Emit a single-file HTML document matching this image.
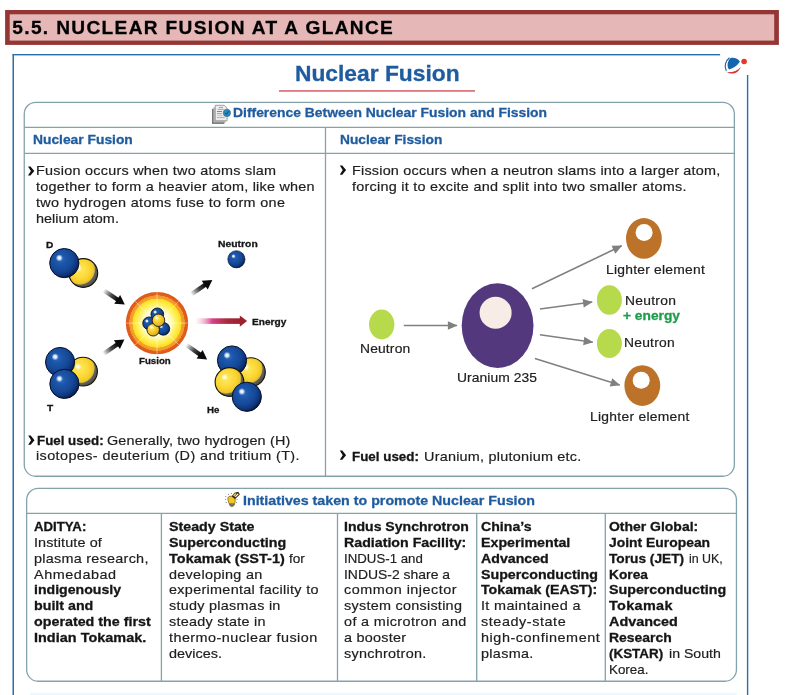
<!DOCTYPE html>
<html><head><meta charset="utf-8"><title>Nuclear Fusion at a Glance</title>
<style>
html,body{margin:0;padding:0;background:#fff;}
body{width:788px;height:695px;position:relative;overflow:hidden;font-family:"Liberation Sans",sans-serif;}
.t{position:absolute;white-space:nowrap;-webkit-text-stroke:0.18px currentColor;transform-origin:0 50%;font-family:"Liberation Sans",sans-serif;}
.t b{font-weight:bold;color:#151515;-webkit-text-stroke:0.3px #151515;}
.t.bd{-webkit-text-stroke:0.3px currentColor;}
.abs{position:absolute;}
#hdr{left:5px;top:10px;width:774px;height:35px;background:#943634;}
#hdr i{position:absolute;left:4.6px;top:4.4px;right:4.7px;bottom:4.4px;background:#e5b8b7;display:block;}
.bl{background:#2a6fad;}
.box{border:1.3px solid #86a5ae;border-radius:12px;box-sizing:border-box;}
.hl{background:#86a5ae;height:1.3px;}
.vl{background:#86a5ae;width:1.3px;}
svg{position:absolute;left:0;top:0;overflow:visible;}
</style></head><body>
<svg width="788" height="695" viewBox="0 0 788 695">
<defs>
<radialGradient id="gb" cx="0.38" cy="0.36" r="0.7">
 <stop offset="0" stop-color="#2e70c8"/><stop offset="0.22" stop-color="#1d58ac"/><stop offset="0.6" stop-color="#154796"/><stop offset="0.8" stop-color="#0e3579"/><stop offset="0.92" stop-color="#082256"/><stop offset="1" stop-color="#041234"/>
</radialGradient>
<radialGradient id="gy" cx="0.38" cy="0.38" r="0.66">
 <stop offset="0" stop-color="#ffea62"/><stop offset="0.5" stop-color="#fbd734"/><stop offset="0.73" stop-color="#f1c627"/><stop offset="0.775" stop-color="#bfae48"/><stop offset="0.81" stop-color="#66645a"/><stop offset="1" stop-color="#4a4842"/>
</radialGradient>
<radialGradient id="gh" cx="0.5" cy="0.5" r="0.5">
 <stop offset="0" stop-color="#fff" stop-opacity="1"/><stop offset="0.4" stop-color="#fff" stop-opacity="0.85"/><stop offset="1" stop-color="#fff" stop-opacity="0"/>
</radialGradient>
<radialGradient id="gy2" cx="0.38" cy="0.34" r="0.75">
 <stop offset="0" stop-color="#ffef80"/><stop offset="0.4" stop-color="#f8d030"/><stop offset="0.8" stop-color="#e0b020"/><stop offset="1" stop-color="#7a6a30"/>
</radialGradient>
<radialGradient id="gf" cx="0.5" cy="0.5" r="0.5">
 <stop offset="0" stop-color="#ffffff"/><stop offset="0.3" stop-color="#fffef0"/><stop offset="0.46" stop-color="#fffabf"/><stop offset="0.58" stop-color="#fff36e"/><stop offset="0.7" stop-color="#ffe83a"/><stop offset="0.78" stop-color="#fddc22"/>
 <stop offset="0.79" stop-color="#f5a42c"/><stop offset="0.885" stop-color="#f2962a"/><stop offset="0.895" stop-color="#e0611d"/><stop offset="1" stop-color="#db571b"/>
</radialGradient>
<linearGradient id="ge" x1="0" x2="1" y1="0" y2="0">
 <stop offset="0" stop-color="#f6c9d6" stop-opacity="0.2"/><stop offset="0.35" stop-color="#d9408a"/><stop offset="0.7" stop-color="#a8283a"/><stop offset="1" stop-color="#9c2230"/>
</linearGradient>
<linearGradient id="ga" x1="0" x2="1" y1="0" y2="0">
 <stop offset="0" stop-color="#000" stop-opacity="0"/><stop offset="0.55" stop-color="#222" stop-opacity="0.85"/><stop offset="1" stop-color="#000"/>
</linearGradient>
<g id="barrow"><rect x="0" y="-2.2" width="18" height="4.4" fill="url(#ga)"/><path d="M16.4 -5.3 L25.6 0 L16.4 5.3 Z" fill="#0a0a0a"/></g>
<g id="sb"><circle r="14.6" fill="url(#gb)" stroke="#050f2a" stroke-width="1"/><circle cx="-5" cy="-5.2" r="3.6" fill="url(#gh)"/></g>
<g id="sy"><circle r="14.4" fill="url(#gy)" stroke="#15120a" stroke-width="1.1"/><circle cx="-5" cy="-5" r="3.4" fill="url(#gh)" opacity="0.9"/></g>
<g id="sb2"><circle r="14.4" fill="url(#gb)" stroke="#050f2a" stroke-width="2"/><circle cx="-5" cy="-5.2" r="4.6" fill="url(#gh)"/></g>
<g id="sy2"><circle r="14.2" fill="url(#gy2)" stroke="#1c1a10" stroke-width="2"/><circle cx="-4" cy="-5.5" r="3" fill="#fff" opacity="0.8"/></g>
<marker id="mk" viewBox="0 0 10 10" refX="9.5" refY="5" markerWidth="11.2" markerHeight="9.6" markerUnits="userSpaceOnUse" orient="auto"><path d="M0 0.5 L10 5 L0 9.5 Z" fill="#808080"/></marker>
</defs>

<!-- header -->
<rect x="5.1" y="10" width="773.8" height="34.9" fill="#943634"/>
<rect x="9.7" y="14.3" width="764.5" height="26.3" fill="#e5b8b7"/>
<!-- frames -->
<g fill="#2a6fad">
 <rect x="12.5" y="54" width="707.6" height="1.4"/>
 <rect x="12.5" y="54" width="1.5" height="641"/>
 <rect x="746.9" y="75" width="1.4" height="620"/>
</g>
<rect x="279" y="90.25" width="196" height="1.4" fill="#d2525c"/>
<g fill="none" stroke="#84a2ab" stroke-width="1.3">
 <rect x="24.25" y="102.45" width="710.1" height="373.8" rx="11.5"/>
 <line x1="24.25" y1="127.4" x2="734.35" y2="127.4"/>
 <line x1="24.25" y1="153.4" x2="734.35" y2="153.4"/>
 <line x1="325.5" y1="127.4" x2="325.5" y2="476.25"/>
 <rect x="26.65" y="488.35" width="709.8" height="192.9" rx="11.5"/>
 <line x1="26.65" y1="513.3" x2="736.45" y2="513.3"/>
 <line x1="161.4" y1="513.3" x2="161.4" y2="681.25"/>
 <line x1="337.5" y1="513.3" x2="337.5" y2="681.25"/>
 <line x1="476.7" y1="513.3" x2="476.7" y2="681.25"/>
 <line x1="605.3" y1="513.3" x2="605.3" y2="681.25"/>
</g>
<rect x="30" y="692.8" width="707" height="2.2" fill="#ecf9fc"/>

<!-- FUSION DIAGRAM -->
<!-- D -->
<use href="#sy" x="83.3" y="273"/>
<use href="#sb" x="64.3" y="263.1"/>
<!-- T -->
<use href="#sy" x="83" y="371.6"/>
<use href="#sb" x="60.1" y="362"/>
<use href="#sb" x="64.4" y="383.9"/>
<!-- neutron -->
<g transform="translate(236.4 259.3) scale(0.59)"><use href="#sb"/></g>
<!-- He -->
<use href="#sy" x="250.9" y="372.1"/>
<use href="#sb" x="232" y="360.5"/>
<use href="#sy" x="229.5" y="382"/>
<use href="#sb" x="246.8" y="396.8"/>
<!-- fusion ball -->
<circle cx="157" cy="323.1" r="31.2" fill="url(#gf)"/>
<g stroke="#fff" stroke-width="0.6" opacity="0.75">
 <line x1="157" y1="292" x2="157" y2="354.2"/><line x1="125.8" y1="323.1" x2="188.2" y2="323.1"/>
 <line x1="135" y1="301.1" x2="179" y2="345.1"/><line x1="135" y1="345.1" x2="179" y2="301.1"/>
</g>
<g transform="translate(157 322) scale(0.44)">
 <use href="#sb2" x="0.7" y="-17.4"/><use href="#sb2" x="-18" y="3"/><use href="#sb2" x="14.4" y="15.5"/>
 <use href="#sy2" x="-8.6" y="17.7"/><use href="#sy2" x="3.4" y="-3.9"/>
</g>
<!-- black arrows -->
<use href="#barrow" transform="translate(103.6 290.2) rotate(34)"/>
<use href="#barrow" transform="translate(103.4 354) rotate(-34.8)"/>
<use href="#barrow" transform="translate(191.2 294.4) rotate(-34.4)"/>
<use href="#barrow" transform="translate(186.2 344.8) rotate(35.2)"/>
<!-- energy arrow -->
<rect x="196.4" y="318.3" width="45" height="5.6" fill="url(#ge)"/>
<path d="M239.8 315.5 L247.1 321.1 L239.8 326.7 Z" fill="#9c2230"/>

<!-- FISSION DIAGRAM -->
<ellipse cx="381.7" cy="324.5" rx="12.7" ry="15" fill="#b6da4b"/>
<line x1="403.8" y1="325.5" x2="457" y2="325.5" stroke="#808080" stroke-width="1.6" marker-end="url(#mk)"/>
<ellipse cx="497.6" cy="325.6" rx="35.9" ry="42.3" fill="#53387e"/>
<circle cx="495.6" cy="312.7" r="16" fill="#f7ece6"/>
<line x1="532" y1="288.8" x2="621.7" y2="245.8" stroke="#808080" stroke-width="1.6" marker-end="url(#mk)"/>
<line x1="539.9" y1="309" x2="592.2" y2="302" stroke="#808080" stroke-width="1.6" marker-end="url(#mk)"/>
<line x1="539.9" y1="334.7" x2="592.8" y2="342.3" stroke="#808080" stroke-width="1.6" marker-end="url(#mk)"/>
<line x1="534.9" y1="358.4" x2="619.7" y2="385" stroke="#808080" stroke-width="1.6" marker-end="url(#mk)"/>
<ellipse cx="643.9" cy="238.4" rx="17.9" ry="20.3" fill="#bd7229"/>
<circle cx="644.1" cy="232.4" r="8.5" fill="#fff"/>
<ellipse cx="642.3" cy="385.6" rx="17.9" ry="20.3" fill="#bd7229"/>
<circle cx="641.2" cy="380.2" r="8.5" fill="#fff"/>
<ellipse cx="609.4" cy="300" rx="12.5" ry="14.7" fill="#b6da4b"/>
<ellipse cx="609.4" cy="343.5" rx="12.5" ry="14.6" fill="#b6da4b"/>

<!-- bullets -->
<g fill="#111">
<path d="M28.0 166.4 L30.5 166.4 L34.3 171.0 L30.5 175.6 L28.0 175.6 L30.9 171.0 Z"/>
<path d="M28.2 435.6 L30.7 435.6 L34.5 440.2 L30.7 444.8 L28.2 444.8 L31.1 440.2 Z"/>
<path d="M339.8 165.5 L342.3 165.5 L346.1 170.1 L342.3 174.7 L339.8 174.7 L342.7 170.1 Z"/>
<path d="M339.8 450.6 L342.3 450.6 L346.1 455.2 L342.3 459.8 L339.8 459.8 L342.7 455.2 Z"/>
</g>

<!-- logo -->
<path d="M730.6 57.9 C734.2 57.1 738.2 58.6 739.9 61.6 C737.6 65.6 733.6 68.6 729 69.5 C726.6 66.2 727.2 61 730.6 57.9 Z" fill="#1565ae"/>
<path d="M729.2 58 C725.4 61 724 66.2 726.2 70.6" fill="none" stroke="#1a5c9c" stroke-width="1.1" stroke-linecap="round"/>
<path d="M727 72.2 C732 75.4 738.6 73 740.8 67 C738 70.6 733 72.4 727 72.2 Z" fill="#d8303a"/>
<circle cx="744.1" cy="61.5" r="2.8" fill="#e8352a"/>

<!-- icon: document -->
<g>
 <rect x="212" y="108.8" width="12.4" height="15.1" fill="#767676"/>
 <rect x="213.4" y="107.2" width="12.4" height="15.2" fill="#b9b9b9"/>
 <path d="M215.2 105.3 L224.2 105.3 L227.1 108 L227.1 120.8 L215.2 120.8 Z" fill="#ededed" stroke="#8d8d8d" stroke-width="0.8"/>
 <g stroke-width="0.8"><line x1="219" y1="107.4" x2="223" y2="107.4" stroke="#8a8a96"/><line x1="217.6" y1="109.4" x2="223.6" y2="109.4" stroke="#8f93b5"/><line x1="217" y1="111.5" x2="222" y2="111.5" stroke="#56707a"/><line x1="217" y1="113.6" x2="221.8" y2="113.6" stroke="#9a7f8a"/><line x1="217" y1="115.6" x2="222.6" y2="115.6" stroke="#b9c2b0"/><line x1="217" y1="117.6" x2="224.6" y2="117.6" stroke="#a99aa0"/></g>
 <circle cx="226.9" cy="112.9" r="3.7" fill="#2b88ba" stroke="#21708f" stroke-width="0.6"/>
 <path d="M225.2 112.8 L226.5 114.3 L228.8 111.2" stroke="#174a66" stroke-width="1" fill="none"/>
</g>
<!-- icon: bulb -->
<g>
 <path d="M227.8 499.2 C227.4 497 229.6 495.6 231.6 496.3 L235.2 499 C235.3 501.5 234.9 503.6 234.3 505 C233.5 506.9 230.4 507 229.6 505 C228.8 503 228.2 501 227.8 499.2 Z" fill="#f3c623" stroke="#5a4a22" stroke-width="0.6"/>
 <path d="M229.2 503.2 L234.6 503.2 C234.2 505.8 233.2 506.7 231.7 506.7 C230.4 506.7 229.5 505.4 229.2 503.2 Z" fill="#76705c"/>
 <path d="M231.6 496.3 L234.6 492.8 L238.4 491.8 L239.8 494.4 L235.2 499 Z" fill="#2e2416"/>
 <path d="M232.9 495.3 L235.2 492.9 L236.7 494 L234.4 496.7 Z" fill="#e9c02a"/>
 <path d="M235.7 497.3 L238.7 494.3 L237.8 493.3 L234.9 496.5 Z" fill="#f4f0e8"/>
 <g fill="#666"><circle cx="225.8" cy="496.6" r="0.5"/><circle cx="228.4" cy="494.2" r="0.5"/><circle cx="231.4" cy="493.6" r="0.5"/><circle cx="225.6" cy="499.6" r="0.5"/><circle cx="226.2" cy="502.4" r="0.5"/><circle cx="237" cy="499.6" r="0.5"/><circle cx="236.6" cy="502.4" r="0.5"/></g>
</g>
</svg>
<div id="tx" style="position:absolute;left:0;top:0;width:788px;height:695px;will-change:transform">
<div class="t bd" style="left:12.3px;top:17.00px;font-size:19.1px;line-height:22.92px;height:22.92px;color:#000;font-weight:bold;letter-spacing:1.344px;transform:scaleX(1.0)">5.5. NUCLEAR FUSION AT A GLANCE</div>
<div class="t bd" style="left:295.0px;top:61.00px;font-size:21.2px;line-height:25.44px;height:25.44px;color:#1f5c9f;font-weight:bold;letter-spacing:-0.000px;transform:scaleX(1.0754)">Nuclear Fusion</div>
<div class="t bd" style="left:233.4px;top:105.00px;font-size:13.2px;line-height:15.84px;height:15.84px;color:#1f5c9f;font-weight:bold;letter-spacing:-0.000px;transform:scaleX(1.0531)">Difference Between Nuclear Fusion and Fission</div>
<div class="t bd" style="left:242.6px;top:493.00px;font-size:13.2px;line-height:15.84px;height:15.84px;color:#1f5c9f;font-weight:bold;letter-spacing:-0.000px;transform:scaleX(1.0795)">Initiatives taken to promote Nuclear Fusion</div>
<div class="t bd" style="left:33.3px;top:133.00px;font-size:12.6px;line-height:15.12px;height:15.12px;color:#1f5c9f;font-weight:bold;letter-spacing:-0.000px;transform:scaleX(1.0969)">Nuclear Fusion</div>
<div class="t bd" style="left:340.4px;top:133.00px;font-size:12.6px;line-height:15.12px;height:15.12px;color:#1f5c9f;font-weight:bold;letter-spacing:-0.000px;transform:scaleX(1.0907)">Nuclear Fission</div>
<div class="t" style="left:36.0px;top:163.00px;font-size:13.1px;line-height:15.72px;height:15.72px;color:#202020;font-weight:normal;letter-spacing:0.226px;transform:scaleX(1.1)">Fusion occurs when two atoms slam</div>
<div class="t" style="left:36.0px;top:179.00px;font-size:13.1px;line-height:15.72px;height:15.72px;color:#202020;font-weight:normal;letter-spacing:0.213px;transform:scaleX(1.1)">together to form a heavier atom, like when</div>
<div class="t" style="left:36.0px;top:195.00px;font-size:13.1px;line-height:15.72px;height:15.72px;color:#202020;font-weight:normal;letter-spacing:0.297px;transform:scaleX(1.1)">two hydrogen atoms fuse to form one</div>
<div class="t" style="left:36.0px;top:211.00px;font-size:13.1px;line-height:15.72px;height:15.72px;color:#202020;font-weight:normal;letter-spacing:0.036px;transform:scaleX(1.1)">helium atom.</div>
<div class="t" style="left:36.6px;top:433.00px;font-size:13.1px;line-height:15.72px;height:15.72px;color:#202020;font-weight:normal;letter-spacing:0.000px;transform:scaleX(1.017)"><b>Fuel used:</b></div>
<div class="t" style="left:107.0px;top:433.00px;font-size:13.1px;line-height:15.72px;height:15.72px;color:#202020;font-weight:normal;letter-spacing:0.148px;transform:scaleX(1.1)">Generally, two hydrogen (H)</div>
<div class="t" style="left:36.0px;top:448.00px;font-size:13.1px;line-height:15.72px;height:15.72px;color:#202020;font-weight:normal;letter-spacing:0.360px;transform:scaleX(1.1)">isotopes- deuterium (D) and tritium (T).</div>
<div class="t" style="left:352.4px;top:163.00px;font-size:13.1px;line-height:15.72px;height:15.72px;color:#202020;font-weight:normal;letter-spacing:0.188px;transform:scaleX(1.1)">Fission occurs when a neutron slams into a larger atom,</div>
<div class="t" style="left:352.4px;top:179.00px;font-size:13.1px;line-height:15.72px;height:15.72px;color:#202020;font-weight:normal;letter-spacing:0.230px;transform:scaleX(1.1)">forcing it to excite and split into two smaller atoms.</div>
<div class="t" style="left:352.4px;top:449.00px;font-size:13.1px;line-height:15.72px;height:15.72px;color:#202020;font-weight:normal;letter-spacing:0.000px;transform:scaleX(1.0216)"><b>Fuel used:</b></div>
<div class="t" style="left:423.7px;top:449.00px;font-size:13.1px;line-height:15.72px;height:15.72px;color:#202020;font-weight:normal;letter-spacing:0.214px;transform:scaleX(1.1)">Uranium, plutonium etc.</div>
<div class="t" style="left:33.7px;top:519.00px;font-size:13.1px;line-height:15.72px;height:15.72px;color:#202020;font-weight:normal;letter-spacing:-0.000px;transform:scaleX(1.0076)"><b>ADITYA:</b></div>
<div class="t" style="left:33.7px;top:535.00px;font-size:13.1px;line-height:15.72px;height:15.72px;color:#202020;font-weight:normal;letter-spacing:0.110px;transform:scaleX(1.1)">Institute of</div>
<div class="t" style="left:33.7px;top:551.00px;font-size:13.1px;line-height:15.72px;height:15.72px;color:#202020;font-weight:normal;letter-spacing:0.237px;transform:scaleX(1.1)">plasma research,</div>
<div class="t" style="left:33.7px;top:567.00px;font-size:13.1px;line-height:15.72px;height:15.72px;color:#202020;font-weight:normal;letter-spacing:0.501px;transform:scaleX(1.1)">Ahmedabad</div>
<div class="t" style="left:33.7px;top:582.00px;font-size:13.1px;line-height:15.72px;height:15.72px;color:#202020;font-weight:normal;letter-spacing:-0.000px;transform:scaleX(1.0774)"><b>indigenously</b></div>
<div class="t" style="left:33.7px;top:598.00px;font-size:13.1px;line-height:15.72px;height:15.72px;color:#202020;font-weight:normal;letter-spacing:0.000px;transform:scaleX(1.0868)"><b>built and</b></div>
<div class="t" style="left:33.7px;top:614.00px;font-size:13.1px;line-height:15.72px;height:15.72px;color:#202020;font-weight:normal;letter-spacing:0.000px;transform:scaleX(1.0911)"><b>operated the first</b></div>
<div class="t" style="left:33.7px;top:630.00px;font-size:13.1px;line-height:15.72px;height:15.72px;color:#202020;font-weight:normal;letter-spacing:0.033px;transform:scaleX(1.1)"><b>Indian Tokamak.</b></div>
<div class="t" style="left:169.2px;top:519.00px;font-size:13.1px;line-height:15.72px;height:15.72px;color:#202020;font-weight:normal;letter-spacing:-0.000px;transform:scaleX(1.0877)"><b>Steady State</b></div>
<div class="t" style="left:169.2px;top:535.00px;font-size:13.1px;line-height:15.72px;height:15.72px;color:#202020;font-weight:normal;letter-spacing:-0.000px;transform:scaleX(1.0876)"><b>Superconducting</b></div>
<div class="t" style="left:169.2px;top:551.00px;font-size:13.1px;line-height:15.72px;height:15.72px;color:#202020;font-weight:normal;letter-spacing:0.052px;transform:scaleX(1.1)"><b>Tokamak (SST-1)</b></div>
<div class="t" style="left:288.8px;top:551.00px;font-size:13.1px;line-height:15.72px;height:15.72px;color:#202020;font-weight:normal;letter-spacing:-0.000px;transform:scaleX(1.0405)">for</div>
<div class="t" style="left:169.2px;top:567.00px;font-size:13.1px;line-height:15.72px;height:15.72px;color:#202020;font-weight:normal;letter-spacing:0.273px;transform:scaleX(1.1)">developing an</div>
<div class="t" style="left:169.2px;top:582.00px;font-size:13.1px;line-height:15.72px;height:15.72px;color:#202020;font-weight:normal;letter-spacing:0.277px;transform:scaleX(1.1)">experimental facility to</div>
<div class="t" style="left:169.2px;top:598.00px;font-size:13.1px;line-height:15.72px;height:15.72px;color:#202020;font-weight:normal;letter-spacing:0.249px;transform:scaleX(1.1)">study plasmas in</div>
<div class="t" style="left:169.2px;top:614.00px;font-size:13.1px;line-height:15.72px;height:15.72px;color:#202020;font-weight:normal;letter-spacing:0.228px;transform:scaleX(1.1)">steady state in</div>
<div class="t" style="left:169.2px;top:630.00px;font-size:13.1px;line-height:15.72px;height:15.72px;color:#202020;font-weight:normal;letter-spacing:0.404px;transform:scaleX(1.1)">thermo-nuclear fusion</div>
<div class="t" style="left:169.2px;top:646.00px;font-size:13.1px;line-height:15.72px;height:15.72px;color:#202020;font-weight:normal;letter-spacing:0.032px;transform:scaleX(1.1)">devices.</div>
<div class="t" style="left:344.2px;top:519.00px;font-size:13.1px;line-height:15.72px;height:15.72px;color:#202020;font-weight:normal;letter-spacing:-0.000px;transform:scaleX(1.073)"><b>Indus Synchrotron</b></div>
<div class="t" style="left:344.2px;top:535.00px;font-size:13.1px;line-height:15.72px;height:15.72px;color:#202020;font-weight:normal;letter-spacing:0.000px;transform:scaleX(1.0844)"><b>Radiation Facility:</b></div>
<div class="t" style="left:344.2px;top:551.00px;font-size:13.1px;line-height:15.72px;height:15.72px;color:#202020;font-weight:normal;letter-spacing:-0.000px;transform:scaleX(1.0119)">INDUS-1 and</div>
<div class="t" style="left:344.2px;top:567.00px;font-size:13.1px;line-height:15.72px;height:15.72px;color:#202020;font-weight:normal;letter-spacing:-0.000px;transform:scaleX(1.0632)">INDUS-2 share a</div>
<div class="t" style="left:344.2px;top:582.00px;font-size:13.1px;line-height:15.72px;height:15.72px;color:#202020;font-weight:normal;letter-spacing:0.444px;transform:scaleX(1.1)">common injector</div>
<div class="t" style="left:344.2px;top:598.00px;font-size:13.1px;line-height:15.72px;height:15.72px;color:#202020;font-weight:normal;letter-spacing:0.240px;transform:scaleX(1.1)">system consisting</div>
<div class="t" style="left:344.2px;top:614.00px;font-size:13.1px;line-height:15.72px;height:15.72px;color:#202020;font-weight:normal;letter-spacing:0.332px;transform:scaleX(1.1)">of a microtron and</div>
<div class="t" style="left:344.2px;top:630.00px;font-size:13.1px;line-height:15.72px;height:15.72px;color:#202020;font-weight:normal;letter-spacing:0.221px;transform:scaleX(1.1)">a booster</div>
<div class="t" style="left:344.2px;top:646.00px;font-size:13.1px;line-height:15.72px;height:15.72px;color:#202020;font-weight:normal;letter-spacing:0.242px;transform:scaleX(1.1)">synchrotron.</div>
<div class="t" style="left:481.2px;top:519.00px;font-size:13.1px;line-height:15.72px;height:15.72px;color:#202020;font-weight:normal;letter-spacing:-0.000px;transform:scaleX(1.0788)"><b>China’s</b></div>
<div class="t" style="left:481.2px;top:535.00px;font-size:13.1px;line-height:15.72px;height:15.72px;color:#202020;font-weight:normal;letter-spacing:0.000px;transform:scaleX(1.0859)"><b>Experimental</b></div>
<div class="t" style="left:481.2px;top:551.00px;font-size:13.1px;line-height:15.72px;height:15.72px;color:#202020;font-weight:normal;letter-spacing:-0.000px;transform:scaleX(1.0832)"><b>Advanced</b></div>
<div class="t" style="left:481.2px;top:567.00px;font-size:13.1px;line-height:15.72px;height:15.72px;color:#202020;font-weight:normal;letter-spacing:0.000px;transform:scaleX(1.0866)"><b>Superconducting</b></div>
<div class="t" style="left:481.2px;top:582.00px;font-size:13.1px;line-height:15.72px;height:15.72px;color:#202020;font-weight:normal;letter-spacing:-0.000px;transform:scaleX(1.0816)"><b>Tokamak (EAST):</b></div>
<div class="t" style="left:481.2px;top:598.00px;font-size:13.1px;line-height:15.72px;height:15.72px;color:#202020;font-weight:normal;letter-spacing:0.320px;transform:scaleX(1.1)">It maintained a</div>
<div class="t" style="left:481.2px;top:614.00px;font-size:13.1px;line-height:15.72px;height:15.72px;color:#202020;font-weight:normal;letter-spacing:0.516px;transform:scaleX(1.1)">steady-state</div>
<div class="t" style="left:481.2px;top:630.00px;font-size:13.1px;line-height:15.72px;height:15.72px;color:#202020;font-weight:normal;letter-spacing:0.503px;transform:scaleX(1.1)">high-confinement</div>
<div class="t" style="left:481.2px;top:646.00px;font-size:13.1px;line-height:15.72px;height:15.72px;color:#202020;font-weight:normal;letter-spacing:0.281px;transform:scaleX(1.1)">plasma.</div>
<div class="t" style="left:609.2px;top:519.00px;font-size:13.1px;line-height:15.72px;height:15.72px;color:#202020;font-weight:normal;letter-spacing:-0.000px;transform:scaleX(1.0661)"><b>Other Global:</b></div>
<div class="t" style="left:609.2px;top:535.00px;font-size:13.1px;line-height:15.72px;height:15.72px;color:#202020;font-weight:normal;letter-spacing:0.000px;transform:scaleX(1.0607)"><b>Joint European</b></div>
<div class="t" style="left:609.2px;top:551.00px;font-size:13.1px;line-height:15.72px;height:15.72px;color:#202020;font-weight:normal;letter-spacing:0.000px;transform:scaleX(1.0462)"><b>Torus (JET)</b></div>
<div class="t" style="left:688.6px;top:551.00px;font-size:13.1px;line-height:15.72px;height:15.72px;color:#202020;font-weight:normal;letter-spacing:0.000px;transform:scaleX(0.9479)">in UK,</div>
<div class="t" style="left:609.2px;top:567.00px;font-size:13.1px;line-height:15.72px;height:15.72px;color:#202020;font-weight:normal;letter-spacing:0.000px;transform:scaleX(1.0478)"><b>Korea</b></div>
<div class="t" style="left:609.2px;top:582.00px;font-size:13.1px;line-height:15.72px;height:15.72px;color:#202020;font-weight:normal;letter-spacing:-0.000px;transform:scaleX(1.0876)"><b>Superconducting</b></div>
<div class="t" style="left:609.2px;top:598.00px;font-size:13.1px;line-height:15.72px;height:15.72px;color:#202020;font-weight:normal;letter-spacing:0.322px;transform:scaleX(1.1)"><b>Tokamak</b></div>
<div class="t" style="left:609.2px;top:614.00px;font-size:13.1px;line-height:15.72px;height:15.72px;color:#202020;font-weight:normal;letter-spacing:-0.000px;transform:scaleX(1.0976)"><b>Advanced</b></div>
<div class="t" style="left:609.2px;top:630.00px;font-size:13.1px;line-height:15.72px;height:15.72px;color:#202020;font-weight:normal;letter-spacing:-0.000px;transform:scaleX(1.0633)"><b>Research</b></div>
<div class="t" style="left:609.2px;top:646.00px;font-size:13.1px;line-height:15.72px;height:15.72px;color:#202020;font-weight:normal;letter-spacing:-0.000px;transform:scaleX(1.0254)"><b>(KSTAR)</b></div>
<div class="t" style="left:669.0px;top:646.00px;font-size:13.1px;line-height:15.72px;height:15.72px;color:#202020;font-weight:normal;letter-spacing:-0.000px;transform:scaleX(1.0802)">in South</div>
<div class="t" style="left:609.2px;top:662.00px;font-size:13.1px;line-height:15.72px;height:15.72px;color:#202020;font-weight:normal;letter-spacing:0.000px;transform:scaleX(1.0213)">Korea.</div>
<div class="t bd" style="left:45.6px;top:240.00px;font-size:9.2px;line-height:11.04px;height:11.04px;color:#151515;font-weight:bold;letter-spacing:0.000px;transform:scaleX(1.1)">D</div>
<div class="t bd" style="left:46.9px;top:403.00px;font-size:9.2px;line-height:11.04px;height:11.04px;color:#151515;font-weight:bold;letter-spacing:0.000px;transform:scaleX(1.1)">T</div>
<div class="t bd" style="left:217.7px;top:238.00px;font-size:9.4px;line-height:11.28px;height:11.28px;color:#151515;font-weight:bold;letter-spacing:0.026px;transform:scaleX(1.1)">Neutron</div>
<div class="t bd" style="left:251.9px;top:316.00px;font-size:9.6px;line-height:11.52px;height:11.52px;color:#151515;font-weight:bold;letter-spacing:-0.000px;transform:scaleX(1.0544)">Energy</div>
<div class="t bd" style="left:139.2px;top:355.00px;font-size:9.6px;line-height:11.52px;height:11.52px;color:#151515;font-weight:bold;letter-spacing:0.000px;transform:scaleX(1.011)">Fusion</div>
<div class="t bd" style="left:206.6px;top:404.00px;font-size:9.4px;line-height:11.28px;height:11.28px;color:#151515;font-weight:bold;letter-spacing:-0.000px;transform:scaleX(1.0347)">He</div>
<div class="t" style="left:360.1px;top:342.00px;font-size:12.6px;line-height:15.12px;height:15.12px;color:#202020;font-weight:normal;letter-spacing:0.137px;transform:scaleX(1.1)">Neutron</div>
<div class="t" style="left:457.3px;top:371.00px;font-size:12.6px;line-height:15.12px;height:15.12px;color:#202020;font-weight:normal;letter-spacing:0.053px;transform:scaleX(1.1)">Uranium 235</div>
<div class="t" style="left:606.4px;top:263.00px;font-size:12.6px;line-height:15.12px;height:15.12px;color:#202020;font-weight:normal;letter-spacing:0.215px;transform:scaleX(1.1)">Lighter element</div>
<div class="t" style="left:624.5px;top:294.00px;font-size:12.6px;line-height:15.12px;height:15.12px;color:#202020;font-weight:normal;letter-spacing:0.243px;transform:scaleX(1.1)">Neutron</div>
<div class="t bd" style="left:623.2px;top:309.00px;font-size:12.6px;line-height:15.12px;height:15.12px;color:#1f9d4d;font-weight:bold;letter-spacing:-0.000px;transform:scaleX(1.0929)">+ energy</div>
<div class="t" style="left:623.9px;top:336.00px;font-size:12.6px;line-height:15.12px;height:15.12px;color:#202020;font-weight:normal;letter-spacing:0.198px;transform:scaleX(1.1)">Neutron</div>
<div class="t" style="left:590.0px;top:410.00px;font-size:12.6px;line-height:15.12px;height:15.12px;color:#202020;font-weight:normal;letter-spacing:0.254px;transform:scaleX(1.1)">Lighter element</div>
</div>
</body></html>
